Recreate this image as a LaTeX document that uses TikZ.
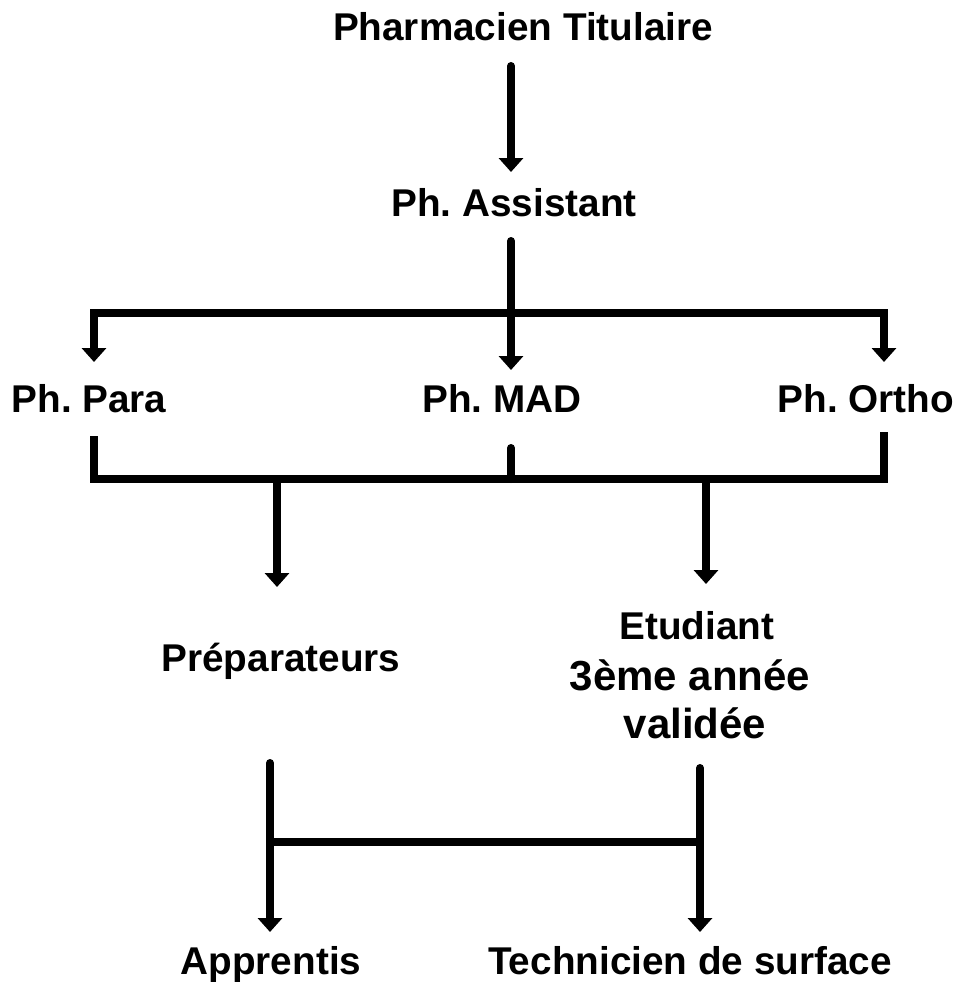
\documentclass[tikz,border=0pt]{standalone}
\usepackage{fontspec}
\setmainfont{Liberation Sans}
\usetikzlibrary{arrows.meta}
\frenchspacing
\begin{document}
\begin{tikzpicture}[x=1pt,y=-1pt,
  lbl/.style={font=\bfseries\fontsize{38.7}{46}\selectfont,inner sep=0pt,anchor=base},
  lblbig/.style={font=\bfseries\fontsize{42}{50}\selectfont,inner sep=0pt,anchor=base},
  conn/.style={line width=8pt,line cap=round,line join=miter},
  arr/.style={conn,-{Triangle[width=24pt,length=14pt]}}]
\useasboundingbox (0,0) rectangle (957,982);
% labels
\node[lbl] (tit) at (523,41) {Pharmacien Titulaire};
\node[lbl] (ass) at (514,216) {Ph. Assistant};
\node[lbl] (para) at (89,412) {Ph. Para};
\node[lbl] (mad) at (502,412) {Ph. MAD};
\node[lbl] (ortho) at (866,412) {Ph. Ortho};
\node[lbl] (prep) at (281,671) {Préparateurs};
\node[lbl] (etu) at (697,639) {Etudiant};
\node[lblbig] (etu2) at (690,690) {3ème année};
\node[lblbig] (etu3) at (695,738) {validée};
\node[lbl] (appr) at (271,974) {Apprentis};
\node[lbl] (tech) at (690,974) {Technicien de surface};
% coordinates
\coordinate (a1s) at (511,66);
\coordinate (a1e) at (511,172);
\coordinate (a2s) at (511,241);
\coordinate (a2e) at (511,370);
\coordinate (barL) at (94,313);
\coordinate (barR) at (884,313);
\coordinate (paraT) at (94,362);
\coordinate (orthoT) at (884,362);
\coordinate (paraB) at (94,436);
\coordinate (madB) at (511,448);
\coordinate (orthoB) at (884,432);
\coordinate (b2L) at (94,479);
\coordinate (b2R) at (884,479);
\coordinate (b2M) at (511,479);
\coordinate (d1s) at (277,479);
\coordinate (d1e) at (277,587);
\coordinate (d2s) at (706,479);
\coordinate (d2e) at (706,584);
\coordinate (l3s) at (270,763);
\coordinate (l3e) at (270,932);
\coordinate (r3s) at (700,768);
\coordinate (r3e) at (700,932);
\coordinate (h3L) at (270,842);
\coordinate (h3R) at (700,842);
% connectors
\draw[arr] (a1s) -- (a1e);
\draw[arr] (a2s) -- (a2e);
\draw[arr,line cap=butt] (barR) -- (barL) -- (paraT);
\draw[arr,line cap=butt] (barL) -- (barR) -- (orthoT);
\draw[conn,line cap=butt] (paraB) -- (b2L) -- (b2R) -- (orthoB);
\draw[conn] (madB) -- (b2M);
\draw[arr,line cap=butt] (d1s) -- (d1e);
\draw[arr,line cap=butt] (d2s) -- (d2e);
\draw[arr] (l3s) -- (l3e);
\draw[arr] (r3s) -- (r3e);
\draw[conn,line cap=butt] (h3L) -- (h3R);
\end{tikzpicture}
\end{document}
